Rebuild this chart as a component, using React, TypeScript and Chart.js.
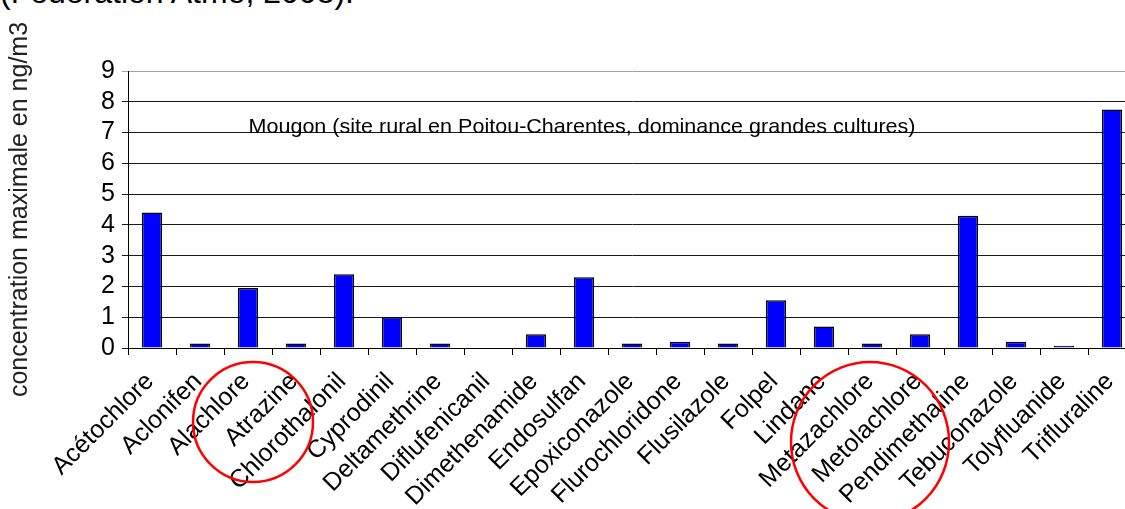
import React, { useEffect, useRef } from "react";
import { Chart, registerables } from "chart.js";

Chart.register(...registerables);

const categories = [
  "Acétochlore",
  "Aclonifen",
  "Alachlore",
  "Atrazine",
  "Chlorothalonil",
  "Cyprodinil",
  "Deltamethrine",
  "Diflufenicanil",
  "Dimethenamide",
  "Endosulfan",
  "Epoxiconazole",
  "Flurochloridone",
  "Flusilazole",
  "Folpel",
  "Lindane",
  "Metazachlore",
  "Metolachlore",
  "Pendimethaline",
  "Tebuconazole",
  "Tolyfluanide",
  "Trifluraline",
];

const maxConcentration = [
  4.4, 0.15, 1.95, 0.15, 2.4, 1.0, 0.15, 0, 0.45, 2.3, 0.15, 0.2, 0.15, 1.55,
  0.7, 0.15, 0.45, 4.3, 0.2, 0.07, 7.75,
];

const yMin = 0;
const yMax = 9;
const yTickCount = 10;

const yTitle = "concentration maximale en ng/m3";
const siteNote =
  "Mougon (site rural en Poitou-Charentes, dominance grandes cultures)";
const sourceText = "(Fédération Atmo, 2008).";

// indices of categories encircled in red
const circledGroups = [
  [2, 3],
  [15, 16],
];

const FONT = '"Liberation Sans", Arial, Helvetica, sans-serif';

export default function App() {
  const canvasRef = useRef<HTMLCanvasElement | null>(null);

  useEffect(() => {
    const canvas = canvasRef.current;
    if (!canvas) return;

    const notePlugin = {
      id: "notePlugin",
      afterDatasetsDraw(chart: any) {
        const { ctx } = chart;
        const xs = chart.scales.x;
        const ys = chart.scales.y;
        ctx.save();
        ctx.font = `21px ${FONT}`;
        const w = ctx.measureText(siteNote).width;
        const target = 667;
        const sx = target / w;
        const cx = xs.getPixelForValue(9) - 2;
        const by = ys.getPixelForValue(7);
        ctx.translate(cx - target / 2, by);
        ctx.scale(sx, 1);
        ctx.textBaseline = "alphabetic";
        ctx.textAlign = "left";
        ctx.fillStyle = "#000";
        ctx.fillText(siteNote, 0, 0);
        ctx.restore();
      },
      afterDraw(chart: any) {
        const { ctx } = chart;
        const xs = chart.scales.x;
        const bottom = chart.chartArea.bottom;
        ctx.save();
        ctx.strokeStyle = "#ff0000";
        ctx.lineWidth = 2.5;
        const g1 = circledGroups[0];
        ctx.beginPath();
        ctx.ellipse(
          xs.getPixelForValue(g1[0]) + 5,
          bottom + 74,
          60,
          60,
          0,
          0,
          Math.PI * 2
        );
        ctx.stroke();
        const g2 = circledGroups[1];
        ctx.beginPath();
        ctx.ellipse(
          xs.getPixelForValue(g2[0]) - 2,
          bottom + 94,
          79,
          80,
          0,
          0,
          Math.PI * 2
        );
        ctx.stroke();
        ctx.restore();
      },
    };

    const chart = new Chart(canvas, {
      type: "bar",
      data: {
        labels: categories,
        datasets: [
          {
            data: maxConcentration,
            backgroundColor: "#0000ff",
            borderColor: "#000000",
            borderWidth: 1.5,
            barPercentage: 0.42,
            categoryPercentage: 1,
          },
        ],
      },
      options: {
        responsive: false,
        animation: false,
        devicePixelRatio: 1,
        layout: { padding: { left: 0, right: 4, top: 71, bottom: 0 } },
        plugins: {
          legend: { display: false },
          tooltip: { enabled: false },
          title: { display: false },
        },
        scales: {
          x: {
            grid: {
              display: true,
              offset: true,
              drawOnChartArea: false,
              drawTicks: true,
              tickLength: 7,
              color: "#000",
            },
            border: { display: true, color: "#000", width: 1 },
            ticks: {
              autoSkip: false,
              maxRotation: 45,
              minRotation: 45,
              padding: 12,
              labelOffset: -2,
              color: "#000",
              font: { family: FONT, size: 25 },
            },
            afterFit: (scale: any) => {
              scale.height = 161;
              scale.paddingLeft = 0;
              scale.paddingRight = 0;
            },
          },
          y: {
            min: yMin,
            max: yMax,
            ticks: {
              count: yTickCount,
              stepSize: 1,
              maxTicksLimit: 20,
              padding: 7,
              color: "#000",
              font: { family: FONT, size: 25, lineHeight: 0.9 },
            },
            grid: {
              drawTicks: true,
              tickLength: 6,
              color: (c: any) =>
                c.tick && c.tick.value === yMax ? "#a0a0a0" : "#1a1a1a",
            },
            border: { display: true, color: "#000", width: 1 },
            title: {
              display: true,
              text: yTitle,
              color: "#222",
              font: { family: FONT, size: 25 },
              padding: { top: 5, bottom: 0 },
            },
            afterFit: (scale: any) => {
              scale.width = 128;
            },
          },
        },
      },
      plugins: [notePlugin],
    });

    return () => {
      chart.destroy();
    };
  }, []);

  return (
    <div
      style={{
        position: "fixed",
        left: 0,
        top: 0,
        width: 1125,
        height: 509,
        overflow: "hidden",
        background: "#fff",
      }}
    >
      <div
        style={{
          position: "absolute",
          left: 0,
          top: -24,
          fontFamily: FONT,
          fontSize: 32,
          lineHeight: "32px",
          color: "#000",
          whiteSpace: "nowrap",
        }}
      >
        {sourceText}
      </div>
      <canvas
        ref={canvasRef}
        width={1140}
        height={509}
        style={{
          position: "absolute",
          left: 0,
          top: 0,
          width: 1140,
          height: 509,
          display: "block",
        }}
      />
    </div>
  );
}
